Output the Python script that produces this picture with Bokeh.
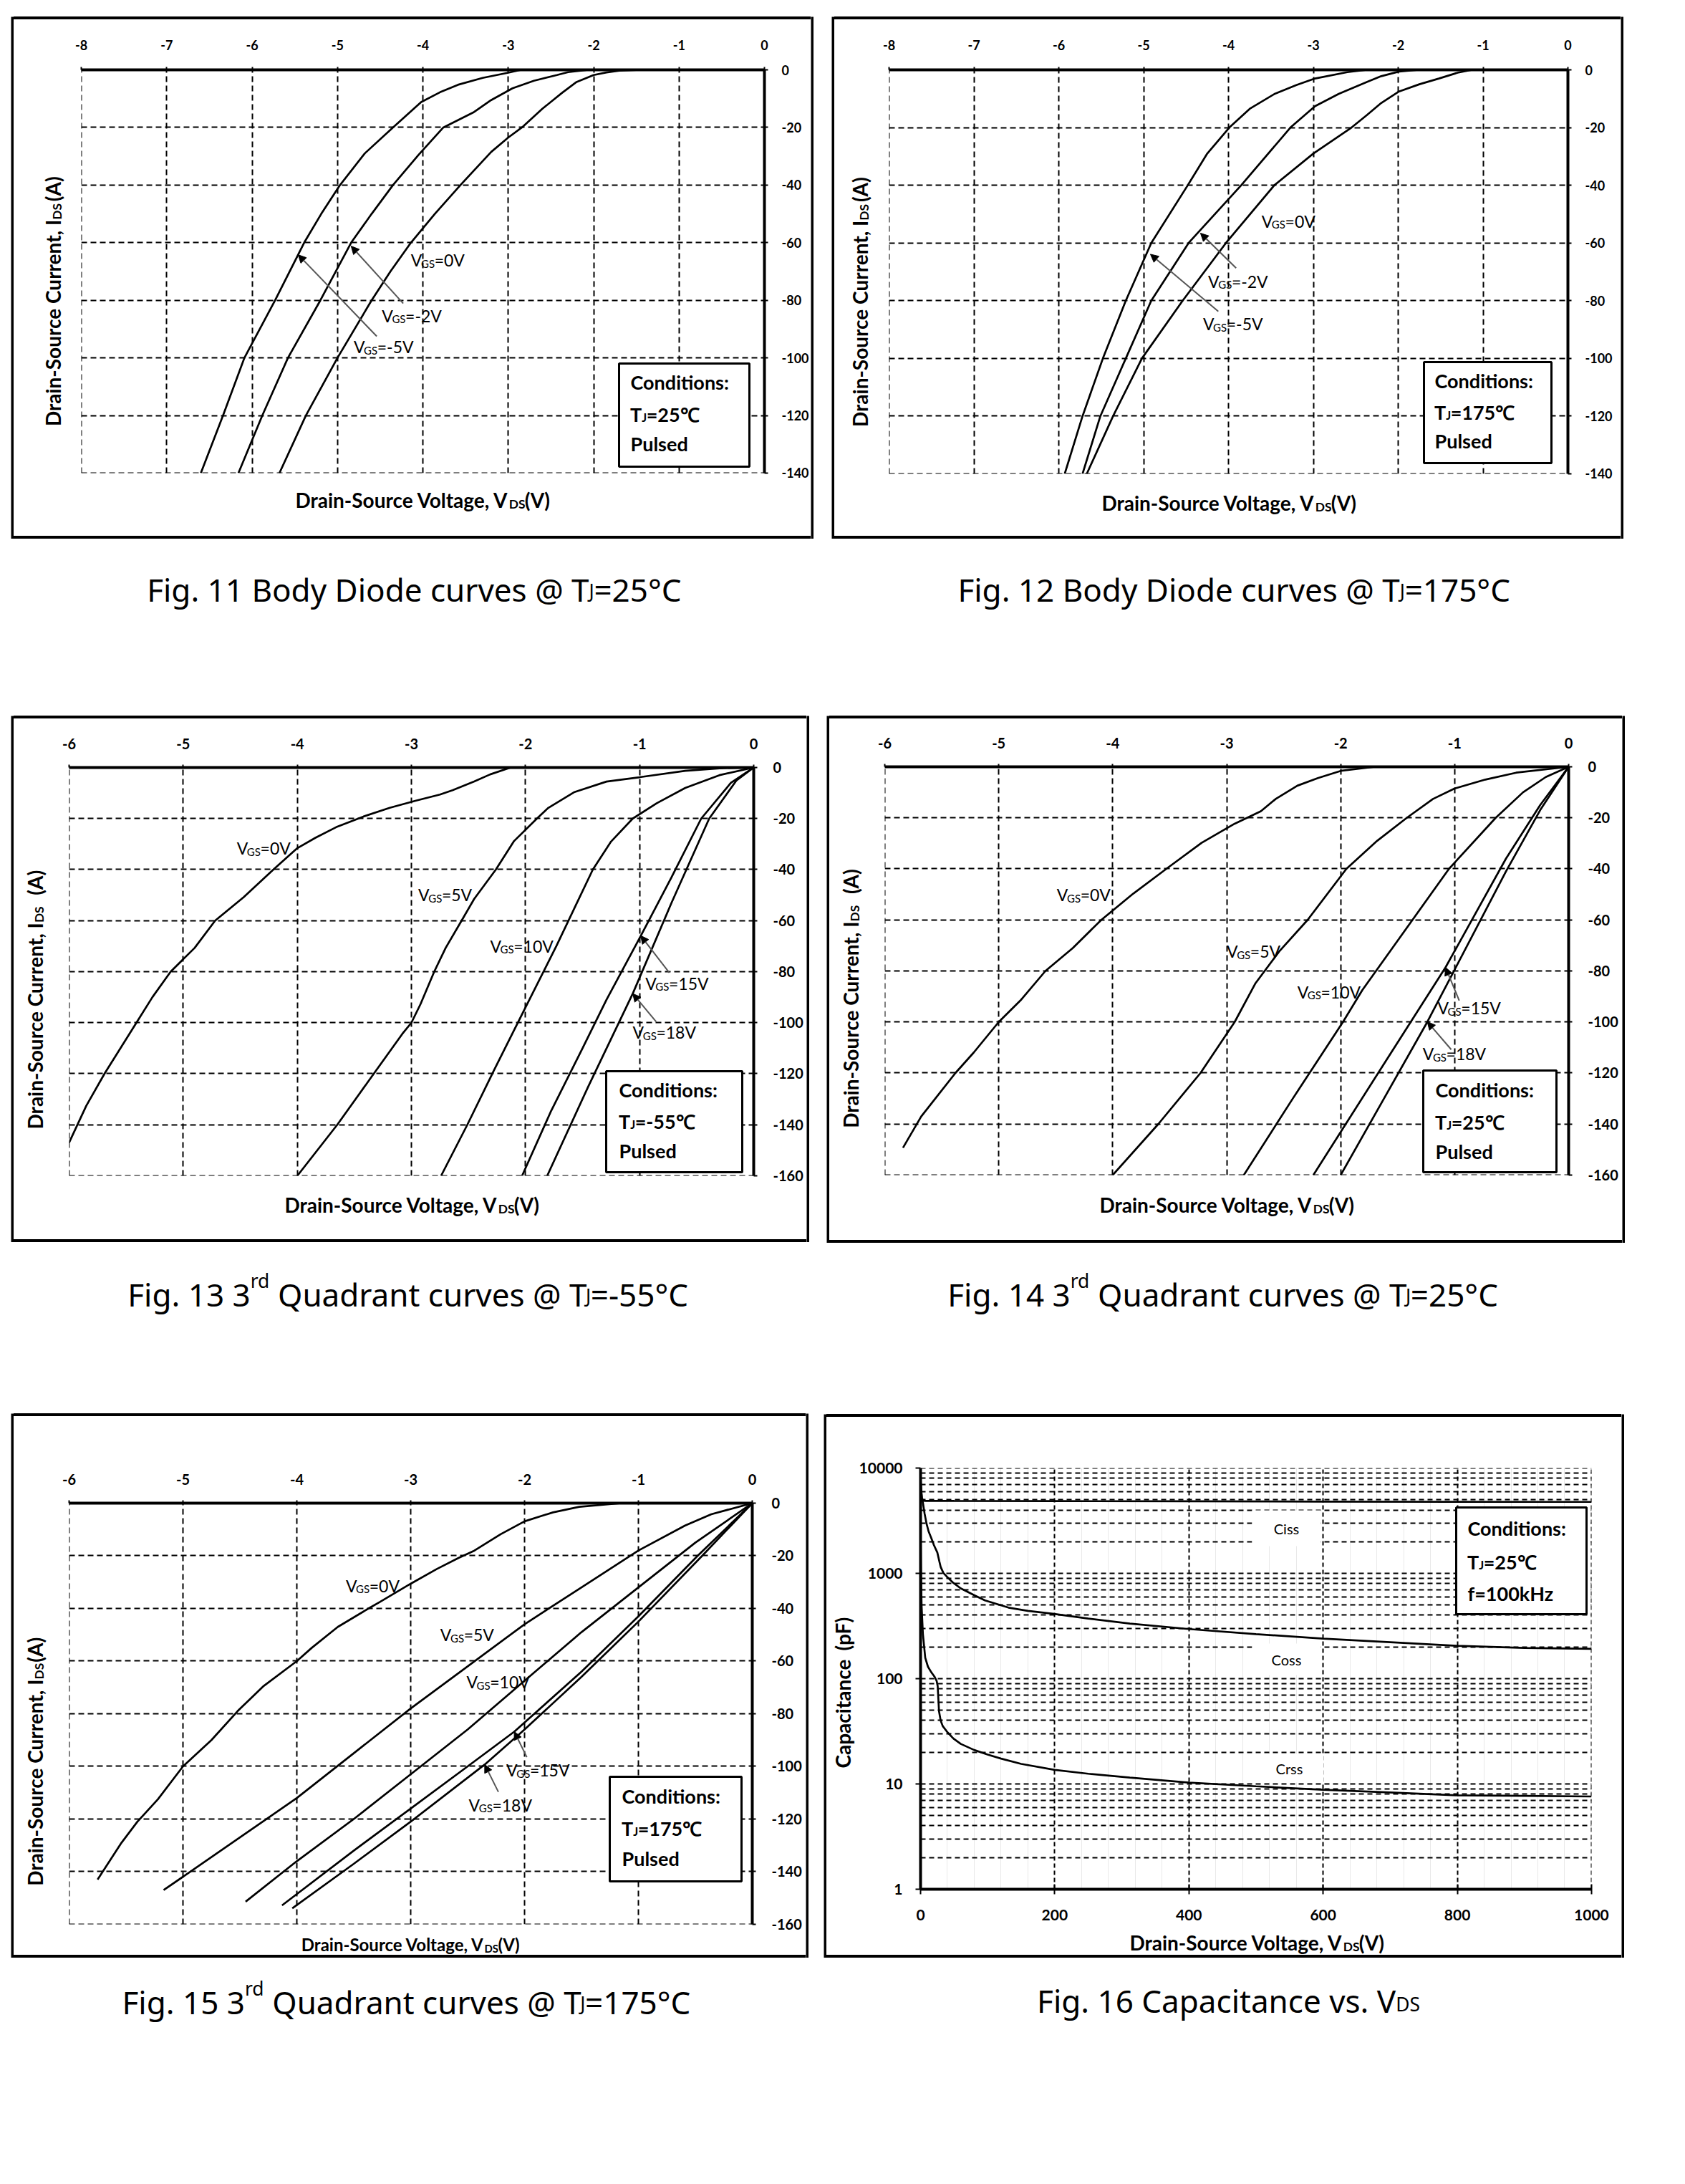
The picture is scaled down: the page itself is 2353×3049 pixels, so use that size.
from bokeh.plotting import figure
from bokeh.models import Range1d, FixedTicker, Label, BoxAnnotation, Arrow, NormalHead, Spacer, Div
from bokeh.layouts import row, column
from bokeh.embed import file_html
from bokeh.resources import INLINE

# ---------------- data ----------------
# Fig. 11  body diode, Tj = 25 C
f11_x_ticks = [-8, -7, -6, -5, -4, -3, -2, -1, 0]
f11_y_ticks = [0, -20, -40, -60, -80, -100, -120, -140]
f11_v_0 = [0, -1.45, -1.7, -1.85, -2.0, -2.2, -2.37, -2.6, -2.84, -3.0, -3.2, -3.56, -3.86, -4.14, -4.38, -4.6, -5.0, -5.37, -5.68]
f11_i_0 = [0, 0, -0.3, -0.9, -1.8, -4.2, -8.0, -13.5, -20, -23.5, -28.5, -40, -50, -60, -70, -80, -100, -120, -140]
f11_v_m2 = [0, -2.06, -2.3, -2.43, -2.7, -2.95, -3.2, -3.41, -3.76, -4.05, -4.35, -4.6, -4.84, -5.2, -5.58, -5.88, -6.16]
f11_i_m2 = [0, 0, -0.8, -1.8, -3.8, -6.4, -10.5, -14.8, -20, -29.5, -40, -50, -60, -80, -100, -120, -140]
f11_v_m5 = [0, -2.85, -3.0, -3.3, -3.59, -3.8, -4.02, -4.35, -4.68, -4.97, -5.19, -5.39, -5.73, -6.09, -6.34, -6.6]
f11_i_m5 = [0, 0, -1.0, -2.8, -5.2, -7.8, -11.2, -20, -29, -40, -50, -60, -80, -100, -120, -140]

# Fig. 12  body diode, Tj = 175 C
f12_v_0 = [0, -1.13, -1.3, -1.52, -1.75, -1.99, -2.2, -2.37, -2.55, -3.0, -3.46, -4.03, -4.54, -5.02, -5.36, -5.67]
f12_i_0 = [0, 0, -1.0, -3.0, -5.0, -7.5, -11.5, -15.7, -20, -29, -40, -60, -80, -100, -120, -140]
f12_v_m2 = [0, -1.76, -1.99, -2.2, -2.37, -2.7, -2.98, -3.27, -3.85, -4.47, -4.91, -5.21, -5.51, -5.72]
f12_i_m2 = [0, 0, -0.6, -2.2, -4.2, -8.3, -12.6, -20, -40, -60, -80, -100, -120, -140]
f12_v_m5 = [0, -2.37, -2.6, -2.98, -3.2, -3.46, -3.75, -3.99, -4.25, -4.48, -4.91, -5.21, -5.48, -5.72, -5.93]
f12_i_m5 = [0, 0, -0.8, -3.0, -5.3, -8.4, -13.5, -20, -29, -40, -60, -80, -100, -120, -140]

# Fig. 13  3rd quadrant, Tj = -55 C
q_x_ticks = [-6, -5, -4, -3, -2, -1, 0]
q_y_ticks = [0, -20, -40, -60, -80, -100, -120, -140, -160]
f13_v_0 = [0, -2.13, -2.31, -2.45, -2.64, -2.75, -2.96, -3.19, -3.42, -3.66, -3.84, -4.0, -4.21, -4.47, -4.72, -4.9, -5.11, -5.27, -5.41, -5.69, -5.85, -6.0]
f13_i_0 = [0, 0, -2.7, -5.5, -8.9, -10.6, -13, -15.8, -19.2, -23.4, -27.5, -31.6, -40, -50.8, -60, -70.7, -80, -90, -100, -120, -132.6, -147]
f13_v_5 = [0, -0.3, -0.6, -1.0, -1.29, -1.57, -1.8, -1.9, -2.1, -2.26, -2.45, -2.56, -2.7, -2.8, -2.92, -3.0, -3.08, -3.33, -3.65, -4.0]
f13_i_5 = [0, -0.3, -1.3, -3.8, -5.5, -9.6, -15.8, -20, -28.8, -40, -51.5, -60, -70.7, -80, -92.7, -100, -104.4, -120, -140, -160]
f13_v_10 = [0, -0.3, -0.6, -0.85, -1.06, -1.25, -1.41, -1.57, -1.73, -2.0, -2.28, -2.51, -2.74]
f13_i_10 = [0, -3, -8, -14, -20, -29, -40, -55, -70, -94, -119, -140, -160]
f13_v_15 = [0, -0.2, -0.46, -0.72, -0.99, -1.29, -1.5, -1.78, -2.03]
f13_i_15 = [0, -6, -20, -43, -66, -91, -110, -135, -160]
f13_v_18 = [0, -0.15, -0.39, -0.72, -1.06, -1.45, -1.81]
f13_i_18 = [0, -5, -20, -53, -88.6, -125, -160]

# Fig. 14  3rd quadrant, Tj = 25 C
f14_v_0 = [0, -1.7, -2.0, -2.2, -2.38, -2.57, -2.7, -2.93, -3.22, -3.53, -3.82, -4.1, -4.35, -4.59, -4.81, -5.0, -5.22, -5.38, -5.68, -5.84]
f14_i_0 = [0, 0, -1.6, -4.4, -7.4, -12.6, -17.4, -22.3, -29.8, -40, -49.7, -60, -71, -80, -91.6, -100, -112, -120, -137, -149.3]
f14_v_5 = [0, -0.46, -0.73, -1.0, -1.19, -1.42, -1.68, -1.95, -2.29, -2.54, -2.75, -2.93, -3.23, -3.6, -4.0]
f14_i_5 = [0, -2.3, -5, -8.5, -12.6, -20, -29, -40, -60, -72.4, -85, -100, -120, -140, -160]
f14_v_10 = [0, -0.2, -0.4, -0.64, -1.05, -1.37, -1.81, -1.98, -2.42, -2.85]
f14_i_10 = [0, -4, -10, -20, -40, -60, -87.5, -100, -130, -160]
f14_v_15 = [0, -0.25, -0.55, -1.08, -1.6, -2.24]
f14_i_15 = [0, -15, -36, -78.6, -115, -160]
f14_v_18 = [0, -0.25, -0.55, -1.24, -1.62, -2.0]
f14_i_18 = [0, -17, -41, -100, -130, -160]

# Fig. 15  3rd quadrant, Tj = 175 C
f15_v_0 = [0, -1.15, -1.52, -1.75, -2.0, -2.21, -2.44, -2.58, -2.77, -3.0, -3.27, -3.37, -3.64, -3.87, -4.0, -4.29, -4.52, -4.75, -5.0, -5.22, -5.4, -5.54, -5.75]
f15_i_0 = [0, 0, -1.4, -3.5, -6.9, -11.8, -18, -20.8, -25, -30.6, -37.5, -40, -47, -55, -60, -69.4, -79, -90, -100, -112.5, -121, -129, -143]
f15_v_5 = [0, -0.36, -0.59, -1.0, -1.5, -2.0, -2.5, -3.0, -3.5, -4.0, -4.5, -5.17]
f15_i_5 = [0, -4.2, -8.5, -18, -32, -46, -62, -78, -95, -112, -127, -147]
f15_v_10 = [0, -0.5, -1.0, -1.5, -1.96, -2.5, -3.0, -3.5, -4.0, -4.45]
f15_i_10 = [0, -15, -32, -49, -66, -86, -103, -120, -136, -151.4]
f15_v_15 = [0, -0.48, -1.0, -1.5, -2.09, -2.5, -3.0, -3.5, -4.13]
f15_i_15 = [0, -20, -43, -64, -86.8, -100, -116, -132, -152.8]
f15_v_18 = [0, -0.44, -1.0, -1.5, -2.0, -2.35, -3.0, -3.5, -4.04]
f15_i_18 = [0, -20, -45, -66, -86, -99.3, -121, -137, -153.9]

# Fig. 16  capacitance vs VDS
f16_x_ticks = [0, 200, 400, 600, 800, 1000]
f16_y_ticks = [1, 10, 100, 1000, 10000]
ciss_v = [0, 1, 2, 4, 8, 50, 200, 400, 600, 800, 1000]
ciss_c = [8000, 6000, 5200, 4900, 4880, 4870, 4850, 4830, 4800, 4780, 4770]
coss_v = [0, 2, 3.5, 6, 9, 12, 16, 20, 25, 28, 30, 34, 39, 49, 60, 80, 96, 131, 160, 197, 250, 312, 400, 500, 600, 700, 800, 900, 1000]
coss_c = [7500, 5200, 4700, 3700, 2950, 2500, 2160, 1850, 1578, 1300, 1150, 1010, 933, 810, 720, 620, 553, 473, 440, 413, 372, 333, 296, 265, 240, 222, 205, 196, 192]
crss_v = [0, 0.5, 1.5, 3.5, 7, 11, 16, 21, 24, 25.5, 26.5, 27.5, 30, 33, 40, 49, 60, 80, 100, 120, 150, 200, 250, 312, 400, 500, 600, 700, 800, 900, 1000]
crss_c = [2500, 1200, 500, 266, 158, 130, 115, 104, 95, 85, 65, 49, 40, 35.5, 31, 27, 24, 21, 19, 17.4, 15.5, 13.6, 12.5, 11.5, 10.3, 9.5, 8.8, 8.3, 7.8, 7.7, 7.6]

# ---------------- text helpers ----------------
FONT = "Lato"
CAPF = "Noto Sans"
LATO = {' ': 0.26, ',': 0.23, '.': 0.23, ':': 0.25, '-': 0.35, '=': 0.58, '(': 0.31, ')': 0.31,
        'A': 0.68, 'C': 0.66, 'D': 0.74, 'F': 0.55, 'G': 0.72, 'I': 0.30, 'J': 0.40, 'S': 0.53,
        'T': 0.58, 'V': 0.68, 'P': 0.60, 'H': 0.76, 'a': 0.50, 'b': 0.57, 'c': 0.47, 'd': 0.57,
        'e': 0.53, 'f': 0.33, 'g': 0.51, 'h': 0.57, 'i': 0.25, 'k': 0.52, 'l': 0.25, 'n': 0.57,
        'o': 0.57, 'p': 0.57, 'r': 0.38, 's': 0.43, 't': 0.36, 'u': 0.57, 'v': 0.52, 'y': 0.52,
        'z': 0.46, '°': 0.40, '℃': 0.95}
NOTO = {' ': 0.26, '.': 0.27, '@': 0.90, '=': 0.57, '-': 0.32, '°': 0.43, 'C': 0.63, 'F': 0.52,
        'B': 0.65, 'D': 0.72, 'T': 0.56, 'Q': 0.74, 'V': 0.60, 'S': 0.55, 'J': 0.26, 'i': 0.26,
        'g': 0.56, 'o': 0.60, 'd': 0.61, 'y': 0.50, 'e': 0.56, 'c': 0.48, 'u': 0.62, 'r': 0.41,
        'v': 0.50, 's': 0.48, 'a': 0.56, 'n': 0.62, 't': 0.36, 'p': 0.61, 'l': 0.26}


def tw(s, size, table):
    return sum(table.get(ch, 0.58) for ch in s) * size


class PageRef:
    """Places text in page pixel coordinates, either in a strip (data = page px)
    or inside a chart frame (screen units relative to that frame)."""
    def __init__(self, p, frame=None):
        self.p = p
        self.frame = frame

    def label(self, X, Y, text, size, font, style, align, angle):
        if self.frame is None:
            kw = dict(x=X, y=Y)
        else:
            fl, ft, frr, fb = self.frame
            kw = dict(x=X - fl, y=fb - Y, x_units="screen", y_units="screen")
        self.p.add_layout(Label(text=text, text_font=font, text_font_size=f"{size:.1f}px",
                                text_font_style=style, text_align=align, text_baseline="alphabetic",
                                angle=angle, angle_units="deg", text_color="black", **kw))

    def box(self, L, Tp, R, B, fill=None, lw=3):
        fl, ft, frr, fb = self.frame
        self.p.add_layout(BoxAnnotation(left=L - fl, right=R - fl, top=fb - Tp, bottom=fb - B,
                                        left_units="screen", right_units="screen",
                                        top_units="screen", bottom_units="screen",
                                        fill_color=fill, fill_alpha=1.0 if fill else 0.0,
                                        line_color="black" if lw else None, line_alpha=1.0,
                                        line_width=lw if lw else 1))


def put(ref, X, Y, text, size, font=FONT, style="bold", align="left", angle=0):
    ref.label(X, Y, text, size, font, style, align, angle)


def _items(parts, size, table):
    out = []
    for t, s, d in parts:
        core = t.strip(' ')
        lead = (len(t) - len(t.lstrip(' '))) * table[' '] * size * s
        trail = (len(t) - len(t.rstrip(' '))) * table[' '] * size * s if core else 0
        out.append((lead, core, s, d, tw(core, size * s, table), trail))
    return out


def rich_h(ref, Xc, Yc, parts, size, font=FONT, style="bold", table=LATO, align="center"):
    it = _items(parts, size, table)
    total = sum(a + w + b for a, c, s, d, w, b in it)
    x0 = Xc - total / 2 if align == "center" else Xc
    lead, core, s, d, w, trail = it[0]
    anchor = x0 + lead + w
    put(ref, anchor, Yc + d * size, core, size * s, font, style, "right")
    cum = trail
    for lead, core, s, d, w, trail in it[1:]:
        cum += lead
        put(ref, anchor + cum, Yc + d * size, core, size * s, font, style, "left")
        cum += w + trail


def rich_v(ref, Xc, Yc, parts, size, font=FONT, style="bold", table=LATO):
    it = _items(parts, size, table)
    total = sum(a + w + b for a, c, s, d, w, b in it)
    lead, core, s, d, w, trail = it[0]
    anchor = Yc + total / 2 - lead - w
    put(ref, Xc + d * size, anchor, core, size * s, font, style, "right", 90)
    cum = trail
    for lead, core, s, d, w, trail in it[1:]:
        cum += lead
        put(ref, Xc + d * size, anchor - cum, core, size * s, font, style, "left", 90)
        cum += w + trail


def vgs(p, x, y, rest, size=23):
    common = dict(x=x, y=y, text_font=FONT, text_font_style="normal", text_align="left",
                  text_baseline="alphabetic", text_color="black")
    p.add_layout(Label(text="V", text_font_size=f"{size}px", **common))
    wv = tw("V", size, LATO) - 1.5
    p.add_layout(Label(text="GS", x_offset=wv, y_offset=-0.2 * size,
                       text_font_size=f"{size * 0.65:.1f}px", **common))
    wg = tw("GS", size * 0.65, LATO)
    p.add_layout(Label(text=rest, x_offset=wv + wg, text_font_size=f"{size}px", **common))


def arrow(p, xs, ys, xe, ye):
    p.add_layout(Arrow(end=NormalHead(size=11, fill_color="black", line_color="black", line_width=1),
                       x_start=xs, y_start=ys, x_end=xe, y_end=ye, line_color="#555555", line_width=2))


def style_axis(ax, ticks, labels, size, standoff, t_out=4, t_in=0, minor=None):
    tk = FixedTicker(ticks=ticks, minor_ticks=minor or [])
    ax.ticker = tk
    ax.major_label_overrides = {t: l for t, l in zip(ticks, labels)}
    ax.axis_line_width = 4
    ax.axis_line_color = "black"
    ax.major_tick_line_width = 2
    ax.major_tick_line_color = "black"
    ax.major_tick_out = t_out
    ax.major_tick_in = t_in
    ax.minor_tick_line_color = None
    ax.major_label_text_font = FONT
    ax.major_label_text_font_size = f"{size}px"
    ax.major_label_text_font_style = "bold"
    ax.major_label_text_color = "black"
    ax.major_label_standoff = standoff
    return tk


def bare(width, height, color="black"):
    s = figure(width=int(width), height=int(height), x_range=Range1d(0, 1), y_range=Range1d(0, 1),
               toolbar_location=None, output_backend="svg", x_axis_type=None, y_axis_type=None,
               min_border_left=0, min_border_right=0, min_border_top=0, min_border_bottom=0)
    s.outline_line_color = None
    s.background_fill_color = color
    s.border_fill_color = color
    return s


def hbar(width, height):
    return Div(text="", width=int(width), height=int(height), margin=(0, 0, 0, 0),
               styles={"background-color": "black", "padding": "0px"})


def strip(x0, x1, y0, y1):
    s = figure(width=int(x1 - x0), height=int(y1 - y0), x_range=Range1d(x0, x1), y_range=Range1d(y1, y0),
               toolbar_location=None, output_backend="svg", x_axis_type=None, y_axis_type=None,
               min_border_left=0, min_border_right=0, min_border_top=0, min_border_bottom=0)
    s.outline_line_color = None
    s.background_fill_color = "white"
    s.border_fill_color = "white"
    return s


def make_main(canvas, fr, xr, yr, log=False):
    cx0, cy0, cx1, cy1 = canvas
    fl, ft, frr, fb = fr
    kw = dict(width=cx1 - cx0, height=cy1 - cy0, toolbar_location=None, output_backend="svg",
              x_range=Range1d(*xr), y_range=Range1d(*yr),
              min_border_left=fl - cx0, min_border_right=cx1 - frr,
              min_border_top=ft - cy0, min_border_bottom=cy1 - fb)
    if log:
        kw["y_axis_type"] = "log"
    else:
        kw["x_axis_location"] = "above"
        kw["y_axis_location"] = "right"
    p = figure(**kw)
    p.outline_line_color = None
    p.background_fill_color = "white"
    p.border_fill_color = "white"
    return p


TH = 4  # outer border thickness


def side_bar(Ys, Ye, bT, bB):
    h = TH // 2
    return column(Spacer(width=TH, height=bT - h - Ys), bare(TH, bB - bT + TH),
                  Spacer(width=TH, height=Ye - bB - h))


def assemble(pos, fr, bx, main_fn, cut_left=None, cut_bottom=None, ytitle=None, xtitle=None, caption=None):
    Xs, Xe, Ys, Ye = pos
    fl, ft, frr, fb = fr
    bL, bT, bR, bB = bx
    h = TH // 2
    cx0 = cut_left if cut_left is not None else fl - 20
    cy1 = cut_bottom if cut_bottom is not None else fb + 13
    inner_w = bR - bL - TH
    main = main_fn((cx0, bT + h, bR - h, cy1))
    L = strip(bL + h, cx0, bT + h, cy1)
    B = strip(bL + h, bR - h, cy1, bB - h)
    C = strip(bL + h, bR - h, bB + h, Ye)
    ytitle(PageRef(L))
    xtitle(PageRef(B))
    caption(PageRef(C))
    middle = column(Spacer(width=inner_w, height=bT - h - Ys), hbar(inner_w, TH),
                    row(L, main), B, hbar(inner_w, TH), C)
    return row(Spacer(width=bL - h - Xs, height=Ye - Ys), side_bar(Ys, Ye, bT, bB), middle,
               side_bar(Ys, Ye, bT, bB), Spacer(width=Xe - bR - h, height=Ye - Ys))


TS = 28  # axis title size
Y_A = [("Drain-Source Current, I", 1, 0), ("DS", 0.62, 0.22), (" (A)", 1, 0)]
Y_B = [("Drain-Source Current, I", 1, 0), ("DS", 0.62, 0.22), ("   (A)", 1, 0)]
X_T = [("Drain-Source Voltage, V", 1, 0), ("DS", 0.62, 0.22), ("(V)", 1, 0)]


def conditions(ref, cond, tj, last):
    (L, Tp, R, B, tl, y1, y2, y3) = cond
    ref.box(L, Tp, R, B, fill="white", lw=3)
    put(ref, tl, y1, "Conditions:", 27)
    rich_h(ref, tl, y2, [("T", 1, 0), ("J", 0.6, 0.14), (tj, 1, 0)], 27, align="left")
    put(ref, tl, y3, last, 27)


def quadrant(pos, fr, bx, xticks, yticks, tsize, curves, xl, yl, ylparts, cond, tj,
             cap_parts, cap_c, labels, arrows, xts=TS):
    def main_fn(canvas):
        eps = 1e-4
        p = make_main(canvas, fr, (xticks[0] - eps, 0), (yticks[-1] - eps, 0))
        tx = style_axis(p.xaxis[0], xticks, [str(t) for t in xticks], tsize, 24 if tsize < 20 else 22)
        ty = style_axis(p.yaxis[0], yticks, [str(t) for t in yticks], tsize, 19 if tsize < 20 else 22, t_out=5)
        for g, tk in ((p.xgrid[0], tx), (p.ygrid[0], ty)):
            g.ticker = tk
            g.grid_line_color = "black"
            g.grid_line_width = 2
            g.grid_line_dash = "8 5"
        for xs, ys in curves:
            p.line(xs, ys, line_color="black", line_width=2.7)
        for (x, y, rest) in labels:
            vgs(p, x, y, rest)
        for a in arrows:
            arrow(p, *a)
        conditions(PageRef(p, fr), cond, tj, "Pulsed")
        return p

    return assemble(
        pos, fr, bx, main_fn,
        ytitle=lambda r: rich_v(r, yl[0], yl[1], ylparts, TS),
        xtitle=lambda r: rich_h(r, xl[0], xl[1], X_T, xts),
        caption=lambda r: rich_h(r, cap_c[0], cap_c[1], cap_parts, 44, font=CAPF, style="normal",
                                 table=NOTO))


# ---------------- panels ----------------
g11 = quadrant(
    (0, 1145, 0, 980), (113, 97, 1068, 660), (17, 25, 1134, 750), f11_x_ticks, f11_y_ticks, 18,
    [(f11_v_0, f11_i_0), (f11_v_m2, f11_i_m2), (f11_v_m5, f11_i_m5)],
    (590, 697), (73, 379), Y_A,
    (864, 507, 1046, 651, 880, 533, 578, 619), "=25℃",
    [("Fig. 11 Body Diode curves @ T", 1, 0), ("J", 0.6, 0.05), ("=25°C", 1, 0)], (580, 822),
    [(-4.14, -66, "=0V"), (-4.48, -85.3, "=-2V"), (-4.81, -96.1, "=-5V")],
    [(-4.23, -81.1, -4.84, -61.2), (-4.54, -92.5, -5.46, -64.2)])

g12 = quadrant(
    (1145, 2353, 0, 980), (1241, 97, 2189, 661), (1163, 25, 2265, 750), f11_x_ticks, f11_y_ticks, 18,
    [(f12_v_0, f12_i_0), (f12_v_m2, f12_i_m2), (f12_v_m5, f12_i_m5)],
    (1716, 701), (1200, 380), Y_A,
    (1988, 505, 2166, 646, 2003, 531, 575, 615), "=175℃",
    [("Fig. 12 Body Diode curves @ T", 1, 0), ("J", 0.6, 0.05), ("=175°C", 1, 0)], (1725, 822),
    [(-3.61, -52.4, "=0V"), (-4.24, -73.3, "=-2V"), (-4.30, -88, "=-5V")],
    [(-3.91, -68.7, -4.33, -56.6), (-4.12, -83.7, -4.92, -63.9)])

g13 = quadrant(
    (0, 1145, 980, 1960), (96, 1071, 1052, 1641), (17, 1001, 1128, 1732), q_x_ticks, q_y_ticks, 20,
    [(f13_v_0, f13_i_0), (f13_v_5, f13_i_5), (f13_v_10, f13_i_10), (f13_v_15, f13_i_15), (f13_v_18, f13_i_18)],
    (575, 1681), (48, 1355), Y_B,
    (846, 1495, 1036, 1636, 864, 1521, 1565, 1606), "=-55℃",
    [("Fig. 13 3", 1, 0), ("rd", 0.6, -0.42), (" Quadrant curves @ T", 1, 0), ("J", 0.6, 0.05), ("=-55°C", 1, 0)], (570, 1806),
    [(-4.53, -31.6, "=0V"), (-2.94, -49.9, "=5V"), (-2.31, -70, "=10V"), (-0.95, -84.5, "=15V"), (-1.06, -103.7, "=18V")],
    [(-0.74, -80.4, -0.99, -65.9), (-0.855, -99.6, -1.06, -88.6)])

g14 = quadrant(
    (1145, 2353, 980, 1960), (1235, 1070, 2190, 1640), (1156, 1001, 2267, 1733), q_x_ticks, q_y_ticks, 20,
    [(f14_v_0, f14_i_0), (f14_v_5, f14_i_5), (f14_v_10, f14_i_10), (f14_v_15, f14_i_15), (f14_v_18, f14_i_18)],
    (1713, 1681), (1187, 1354), Y_B,
    (1987, 1494, 2173, 1636, 2004, 1521, 1566, 1607), "=25℃",
    [("Fig. 14 3", 1, 0), ("rd", 0.6, -0.42), (" Quadrant curves @ T", 1, 0), ("J", 0.6, 0.05), ("=25°C", 1, 0)], (1708, 1806),
    [(-4.49, -50.1, "=0V"), (-3.0, -72.4, "=5V"), (-2.38, -88.2, "=10V"), (-1.15, -94.5, "=15V"), (-1.28, -112.5, "=18V")],
    [(-0.96, -91.6, -1.08, -78.6), (-1.03, -110.8, -1.24, -99.9)])

g15 = quadrant(
    (0, 1145, 1960, 3040), (96, 2098, 1050, 2686), (17, 1975, 1127, 2731), q_x_ticks, q_y_ticks, 20,
    [(f15_v_0, f15_i_0), (f15_v_5, f15_i_5), (f15_v_10, f15_i_10), (f15_v_15, f15_i_15), (f15_v_18, f15_i_18)],
    (573, 2714), (48, 2391), Y_A,
    (851, 2480, 1035, 2626, 868, 2507, 2552, 2594), "=175℃",
    [("Fig. 15 3", 1, 0), ("rd", 0.6, -0.42), (" Quadrant curves @ T", 1, 0), ("J", 0.6, 0.05), ("=175°C", 1, 0)], (568, 2794),
    [(-3.57, -31.3, "=0V"), (-2.74, -50, "=5V"), (-2.51, -68, "=10V"), (-2.16, -101.4, "=15V"), (-2.49, -114.6, "=18V")],
    [(-1.98, -96.5, -2.09, -86.8), (-2.23, -109.7, -2.35, -99.3)], xts=24)

# Fig. 16
fr16 = (1283, 2049, 2222, 2637)


def main16(canvas):
    p = make_main(canvas, fr16, (0, 1000.05), (1, 10000.5), log=True)
    tx = style_axis(p.xaxis[0], f16_x_ticks, [str(t) for t in f16_x_ticks], 21, 21, t_out=7, t_in=7,
                    minor=[v for v in range(40, 1000, 40) if v % 200])
    ty = style_axis(p.yaxis[0], f16_y_ticks, [str(t) for t in f16_y_ticks], 21, 18, t_out=7,
                    minor=[k * 10 ** d for d in range(4) for k in range(2, 10)])
    gx, gy = p.xgrid[0], p.ygrid[0]
    gx.ticker = tx
    gy.ticker = ty
    gx.grid_line_color = "black"
    gx.grid_line_width = 2
    gx.grid_line_dash = "6 4"
    gx.minor_grid_line_color = "#e9e9e9"
    gx.minor_grid_line_width = 1
    gy.grid_line_color = "black"
    gy.grid_line_width = 2
    gy.grid_line_dash = "7 5"
    gy.minor_grid_line_color = "black"
    gy.minor_grid_line_width = 2
    gy.minor_grid_line_dash = "7 5"
    p.line(ciss_v, ciss_c, line_color="black", line_width=2.7)
    p.line(coss_v, coss_c, line_color="black", line_width=2.7)
    p.line(crss_v, crss_c, line_color="black", line_width=2.7)
    ref = PageRef(p, fr16)
    for name, cx, cy, h in (("Ciss", 1794, 2133, 50), ("Coss", 1794, 2316, 44), ("Crss", 1798, 2468, 40)):
        ref.box(cx - 48, cy - h / 2, cx + 48, cy + h / 2, fill="white", lw=0)
        put(ref, cx, cy, name, 20, style="normal", align="center")
    conditions(ref, (2031, 2104, 2213, 2253, 2047, 2133, 2180, 2224), "=25℃", "f=100kHz")
    return p


g16 = assemble(
    (1145, 2353, 1960, 3040), fr16, (1152, 1976, 2266, 2731), main16, cut_left=1196, cut_bottom=2690,
    ytitle=lambda r: rich_v(r, 1176, 2345, [("Capacitance", 1, 0), ("  (pF)", 1, 0)], TS),
    xtitle=lambda r: rich_h(r, 1755, 2711, X_T, TS),
    caption=lambda r: rich_h(r, 1716, 2792, [("Fig. 16 Capacitance vs. V", 1, 0), ("DS", 0.6, 0.12)], 44,
                             font=CAPF, style="normal", table=NOTO))

layout = column(row(g11, g12), row(g13, g14), row(g15, g16))
open("out.html", "w").write(file_html(layout, INLINE))
